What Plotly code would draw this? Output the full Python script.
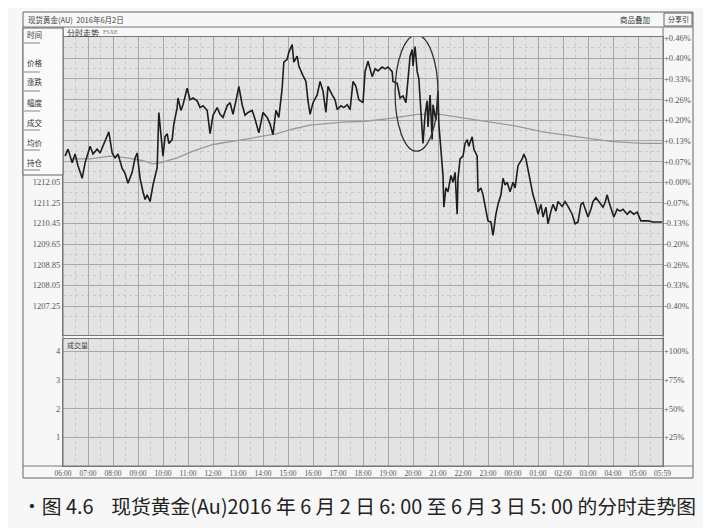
import plotly.graph_objects as go

# ---------------- data ----------------
price_minutes = [5, 12, 22, 29, 36, 46, 53, 65, 72, 82, 89, 96, 106, 110, 118, 125, 132, 142, 149, 156,
                 166, 173, 178, 185, 192, 197, 202, 209, 216, 221, 226, 230, 235, 240, 245, 250, 254, 262,
                 266, 274, 276, 283, 288, 298, 305, 312, 322, 329, 336, 346, 353, 360,
                 370, 377, 384, 394, 401, 408, 415, 422, 430, 437, 444, 454, 461, 470, 480, 490, 497, 504,
                 511, 518, 526, 530, 538, 542, 550, 554, 562, 566, 576, 583, 588, 593, 600, 610, 617, 624,
                 631, 636, 646, 653, 658, 667, 674, 682, 689, 696, 703, 710, 720,
                 725, 732, 742, 749, 756, 766, 773, 780, 790, 792, 802, 809, 816, 823, 828, 833, 838, 840,
                 845, 850, 854, 859, 864, 869, 874, 876, 881, 886, 888, 895, 900, 902, 907, 912, 914, 919,
                 924, 931, 936, 941, 946, 948, 953, 960, 965, 970, 974, 982, 986, 994, 996, 1003, 1008,
                 1015, 1020, 1027, 1032, 1039, 1044, 1051, 1056, 1061, 1066, 1073, 1080,
                 1085, 1092, 1102, 1106, 1111, 1116, 1123, 1128, 1135, 1140, 1147, 1152, 1159, 1164, 1171,
                 1176, 1183, 1188, 1198, 1205, 1212, 1222, 1229, 1236, 1243, 1248, 1255, 1260, 1267, 1272,
                 1279, 1286, 1296, 1301, 1306, 1310, 1318, 1322, 1330, 1337, 1344, 1354, 1361, 1370, 1378,
                 1387, 1392, 1404, 1416, 1428, 1438]
price_values = [1213.06, 1213.33, 1212.80, 1213.14, 1212.69, 1212.20, 1212.80, 1213.44, 1213.14, 1213.33,
                1213.18, 1213.44, 1213.81, 1214.00, 1213.18, 1212.99, 1213.14, 1212.58, 1212.39, 1212.01,
                1212.43, 1212.99, 1213.18, 1212.20, 1211.68, 1211.38, 1211.56, 1211.30, 1211.94, 1212.31,
                1212.61, 1214.75, 1213.93, 1213.06, 1213.81, 1213.93, 1213.55, 1213.70,
                1214.30, 1214.94, 1215.31, 1214.83, 1215.05, 1215.69, 1215.24, 1215.31, 1215.20, 1214.94,
                1215.01, 1214.83, 1213.93, 1214.64,
                1214.94, 1214.68, 1214.56, 1215.01, 1215.13, 1214.68, 1215.20, 1215.76, 1215.05, 1214.64,
                1214.75, 1214.83, 1214.49, 1213.96, 1214.75, 1214.56, 1214.30, 1213.89,
                1214.83, 1214.56, 1215.69, 1216.70, 1216.81, 1217.08, 1217.38, 1216.70, 1216.93, 1216.55,
                1216.18, 1215.95, 1215.20, 1214.68, 1215.13, 1215.43, 1215.95, 1215.58,
                1214.75, 1215.76, 1215.43, 1215.24, 1214.86, 1215.01, 1214.94, 1215.05, 1214.86, 1215.95,
                1215.76, 1215.24, 1215.13,
                1216.33, 1216.74, 1216.14, 1216.44, 1216.36, 1216.51, 1216.44, 1216.51, 1216.33, 1215.95,
                1215.88, 1215.31, 1215.39, 1215.13, 1216.18, 1216.93, 1217.19, 1216.55,
                1217.30, 1216.33, 1216.06, 1214.94, 1213.55, 1214.68, 1215.20, 1214.19, 1215.43, 1213.70,
                1215.05, 1214.45, 1215.58, 1214.30, 1213.33, 1212.31, 1211.08, 1211.83,
                1211.68, 1212.31, 1212.05, 1212.43, 1210.81, 1212.20, 1212.95, 1213.06, 1213.55, 1213.70,
                1213.44, 1213.81, 1213.33, 1213.06, 1211.68, 1211.83, 1211.56,
                1210.93, 1210.55, 1210.51, 1209.99, 1210.81, 1211.19, 1211.56, 1212.20, 1211.94, 1212.05,
                1211.68, 1212.05,
                1211.83, 1212.69, 1212.95, 1213.14, 1212.95, 1212.58, 1212.05, 1211.56, 1211.19, 1210.81,
                1211.19, 1210.70, 1211.08, 1210.44, 1210.93,
                1211.19, 1210.93, 1211.30, 1211.11, 1211.30, 1211.11, 1210.81, 1210.44, 1210.51, 1211.19,
                1211.26, 1210.93, 1210.70, 1211.00, 1211.30,
                1211.45, 1211.30, 1211.08, 1211.26, 1211.56, 1211.30, 1210.93, 1210.70, 1211.00, 1210.93,
                1211.00, 1210.81, 1210.93, 1210.81, 1210.89,
                1210.55, 1210.55, 1210.55, 1210.51, 1210.51, 1210.51]

avg_minutes = [17, 65, 113, 154, 192, 216, 233, 274, 312, 360, 432, 514, 552, 593, 672, 725, 792, 850,
               905, 953, 1032, 1085, 1152, 1234, 1313, 1392, 1438]
avg_values = [1212.95, 1212.95, 1213.06, 1212.99, 1212.88, 1212.76, 1212.80, 1212.99, 1213.25, 1213.51,
              1213.70, 1213.93, 1214.11, 1214.26, 1214.38, 1214.41, 1214.53, 1214.68, 1214.68, 1214.56,
              1214.38, 1214.23, 1214.00, 1213.81, 1213.63, 1213.55, 1213.55]

prev_close = 1212.05
price_step = 0.80
left_price_labels = ["1212.05", "1211.25", "1210.45", "1209.65", "1208.85", "1208.05", "1207.25"]
pct_labels = ["+0.46%", "+0.40%", "+0.33%", "+0.26%", "+0.20%", "+0.13%", "+0.07%", "+0.00%",
              "-0.07%", "-0.13%", "-0.20%", "-0.26%", "-0.33%", "-0.40%"]
x_tick_labels = ["06:00", "07:00", "08:00", "09:00", "10:00", "11:00", "12:00", "13:00", "14:00",
                 "15:00", "16:00", "17:00", "18:00", "19:00", "20:00", "21:00", "22:00", "23:00",
                 "00:00", "01:00", "02:00", "03:00", "04:00", "05:00", "05:59"]
x_tick_minutes = [i * 60 for i in range(24)] + [1439]
vol_levels = [1, 2, 3, 4]
vol_labels = ["1", "2", "3", "4"]
vol_pct_labels = ["+25%", "+50%", "+75%", "+100%"]
side_items = ["时间", "价格", "涨跌", "幅度", "成交", "均价", "持仓"]

# ---------------- layout geometry (page has an 8px body margin) ----------------
OFF = 8
W, H = 703, 520
def px(x): return (x - OFF) / W
def py(y): return 1 - (y - OFF) / H

price_levels = [prev_close + k * price_step for k in range(7, -7, -1)]
y_lo = prev_close - 7.4 * price_step
y_hi = prev_close + 7.03 * price_step

fig = go.Figure()
invisible = dict(mode="markers", marker=dict(size=1, color="rgba(0,0,0,0)"), showlegend=False, hoverinfo="skip")

fig.add_trace(go.Scatter(x=[0], y=[prev_close], xaxis="x", yaxis="y3", **invisible))
fig.add_trace(go.Scatter(x=avg_minutes, y=avg_values, mode="lines", line=dict(color="#9a9a9a", width=1.3),
                         xaxis="x", yaxis="y", showlegend=False, hoverinfo="skip"))
fig.add_trace(go.Scatter(x=price_minutes, y=price_values, mode="lines", line=dict(color="#1e1e1e", width=1.6),
                         xaxis="x", yaxis="y", showlegend=False))
# empty volume pane
fig.add_trace(go.Scatter(x=[0], y=[0], xaxis="x2", yaxis="y2", **invisible))
fig.add_trace(go.Scatter(x=[0], y=[0], xaxis="x2", yaxis="y4", **invisible))

grid = "#a8a8a8"
minor_grid = dict(showgrid=True, gridcolor="#c9c9c9", griddash="dot", gridwidth=1)
tickfont = dict(family="Liberation Serif", size=8.5, color="#555")

x_common = dict(range=[0, 1440], domain=[px(63), px(663)], tickmode="array", tickvals=x_tick_minutes,
                showgrid=True, gridcolor=grid, gridwidth=1, zeroline=False, ticks="", automargin=False,
                minor=dict(tickmode="linear", tick0=30, dtick=60, **minor_grid),
                showline=True, linecolor="#777", mirror=True)

fig.update_layout(
    template="none",
    width=W, height=H, margin=dict(l=0, r=0, t=0, b=0, pad=0), autosize=False,
    paper_bgcolor="#f7f7f7", plot_bgcolor="#e3e3e3",
    xaxis=dict(anchor="y", showticklabels=False, **x_common),
    xaxis2=dict(anchor="y2", matches="x", ticktext=x_tick_labels, showticklabels=True,
                tickfont=dict(family="Liberation Serif", size=7.5, color="#555"), **x_common),
    yaxis=dict(domain=[py(335), py(37)], range=[y_lo, y_hi], tickmode="array", anchor="x",
               tickvals=price_levels[7:], ticktext=left_price_labels, showgrid=False, zeroline=False,
               tickfont=tickfont, ticks="", showline=True, linecolor="#777", mirror=True, automargin=False),
    yaxis3=dict(overlaying="y", side="right", anchor="x", range=[y_lo, y_hi], tickmode="array",
                tickvals=price_levels, ticktext=pct_labels, showgrid=True, gridcolor=grid, zeroline=False,
                minor=dict(tickmode="array", tickvals=[v - price_step / 2 for v in price_levels[:-1]] + [prev_close - 6.5 * price_step], **minor_grid),
                tickfont=tickfont, ticks="", automargin=False, showline=False),
    yaxis2=dict(domain=[py(466), py(339)], range=[0, 4.42], tickmode="array", tickvals=vol_levels, anchor="x2",
                ticktext=vol_labels, showgrid=True, gridcolor=grid, zeroline=False, tickfont=tickfont,
                ticks="", showline=True, linecolor="#777", mirror=True, automargin=False),
    yaxis4=dict(overlaying="y2", side="right", anchor="x2", range=[0, 4.42], tickmode="array", tickvals=vol_levels,
                ticktext=vol_pct_labels, showgrid=False, zeroline=False, tickfont=tickfont, ticks="",
                automargin=False, showline=False),
)

# frame, title bar, header strip and side panel
shapes = [
    dict(type="rect", xref="paper", yref="paper", x0=px(23), x1=px(693), y0=py(478), y1=py(12),
         line=dict(color="#666", width=1), fillcolor="rgba(0,0,0,0)", layer="below"),
    dict(type="line", xref="paper", yref="paper", x0=px(23), x1=px(693), y0=py(27), y1=py(27),
         line=dict(color="#777", width=1)),
    dict(type="line", xref="paper", yref="paper", x0=px(23), x1=px(693), y0=py(466), y1=py(466),
         line=dict(color="#777", width=1)),
    dict(type="line", xref="paper", yref="paper", x0=px(63), x1=px(63), y0=py(466), y1=py(27),
         line=dict(color="#777", width=1)),
    dict(type="line", xref="paper", yref="paper", x0=px(663), x1=px(663), y0=py(466), y1=py(27),
         line=dict(color="#777", width=1)),
    dict(type="rect", xref="paper", yref="paper", x0=px(23), x1=px(63), y0=py(175), y1=py(28),
         line=dict(color="#666", width=1), fillcolor="#fafafa", layer="above"),
    dict(type="rect", xref="paper", yref="paper", x0=px(664), x1=px(692), y0=py(26), y1=py(13),
         line=dict(color="#666", width=1), fillcolor="rgba(0,0,0,0)"),
    # hand-drawn ellipse around the 20:00–21:00 swing
    dict(type="circle", xref="x", yref="y", x0=797, x1=900, y0=1213.25, y1=1217.75,
         line=dict(color="#333", width=1.3), fillcolor="rgba(0,0,0,0)", layer="above"),
]
sep_y = [43, 72, 91, 111, 130, 150, 170]
for yy in sep_y:
    shapes.append(dict(type="line", xref="paper", yref="paper", x0=px(24), x1=px(40), y0=py(yy), y1=py(yy),
                       line=dict(color="#888", width=1), layer="above"))
fig.update_layout(shapes=shapes)

cjk = "Noto Sans CJK SC"
ann = []
def text(x, y, s, size=7.5, color="#333", xanchor="left", family=cjk):
    ann.append(dict(xref="paper", yref="paper", x=px(x), y=py(y), text=s, showarrow=False,
                    xanchor=xanchor, yanchor="middle", font=dict(family=family, size=size, color=color)))

text(26, 19, "现货黄金(AU)  2016年6月2日", size=7.5, color="#444")
text(652, 19, "商品叠加", size=7.5, color="#333", xanchor="right")
text(678, 19, "分享引", size=7, color="#333", xanchor="center")
text(65, 32, "分时走势", size=8, color="#333")
text(101, 32, "FSXE", size=6, color="#777", family="Liberation Serif")
side_y = [34, 63, 82, 102, 122, 142, 162]
for s, yy in zip(side_items, side_y):
    text(25, yy, s, size=7.5, color="#333")
text(65, 345, "成交量", size=7, color="#444")
text(20, 505, "•图 4.6    现货黄金(Au)2016 年 6 月 2 日 6: 00 至 6 月 3 日 5: 00 的分时走势图",
     size=19.8, color="#222")
fig.update_layout(annotations=ann)

fig.write_html("out.html")
